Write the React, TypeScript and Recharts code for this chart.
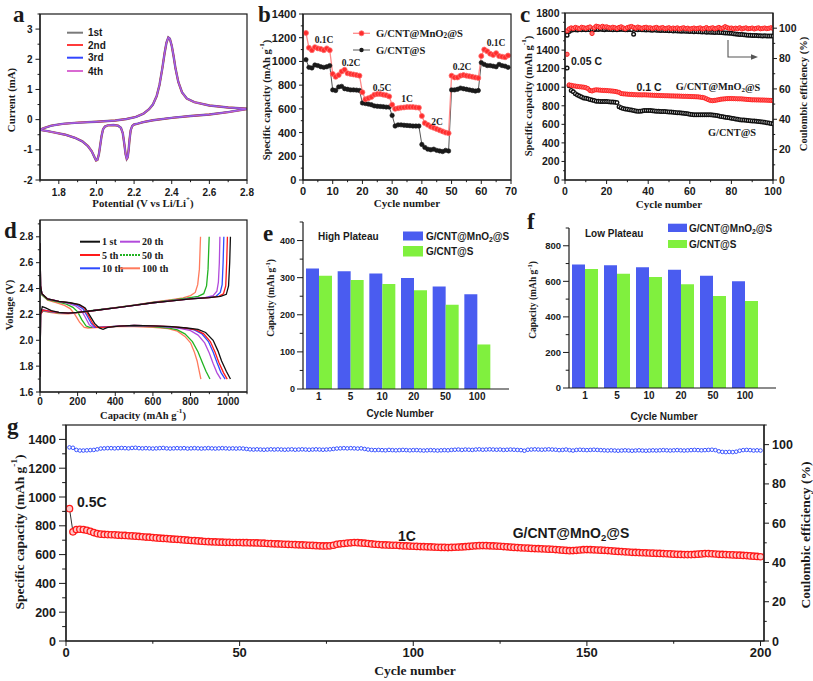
import React from "react";
import { Bar, BarChart, Line, LineChart, XAxis, YAxis } from "recharts";

const SANS = "'Liberation Sans', Arial, sans-serif";
const SERIF = "'Liberation Serif', 'Times New Roman', serif";
const INK = "#1a1a1a";

// ---------- a: cyclic voltammetry (potential V, current mA), cathodic then anodic ----------
const cvCycle: [number, number][] = [
  [2.8, 0.35], [2.7, 0.25], [2.6, 0.17], [2.5, 0.12], [2.4, 0.06], [2.3, -0.02], [2.25, -0.08], [2.22, -0.13],
  [2.2, -0.16], [2.19, -0.21], [2.182, -0.35], [2.176, -0.65], [2.171, -1.0], [2.166, -1.25], [2.161, -1.3],
  [2.155, -1.15], [2.148, -0.8], [2.14, -0.45], [2.13, -0.27], [2.115, -0.2], [2.09, -0.18], [2.06, -0.19],
  [2.045, -0.23], [2.035, -0.32], [2.027, -0.55], [2.02, -0.85], [2.013, -1.15], [2.005, -1.33], [1.998, -1.35],
  [1.99, -1.25], [1.975, -1.05], [1.955, -0.88], [1.925, -0.72], [1.885, -0.6], [1.835, -0.5], [1.78, -0.43],
  [1.74, -0.38], [1.7, -0.34],
  [1.72, -0.28], [1.76, -0.2], [1.82, -0.14], [1.9, -0.1], [2.0, -0.07], [2.1, -0.03], [2.16, 0.02], [2.21, 0.09],
  [2.25, 0.2], [2.28, 0.35], [2.3, 0.5], [2.32, 0.78], [2.335, 1.15], [2.35, 1.7], [2.362, 2.2], [2.372, 2.55],
  [2.382, 2.72], [2.39, 2.68], [2.4, 2.45], [2.41, 2.1], [2.42, 1.7], [2.435, 1.25], [2.455, 0.9], [2.48, 0.7],
  [2.52, 0.58], [2.6, 0.47], [2.7, 0.4], [2.8, 0.36],
];
const cvNames = ["1st", "2nd", "3rd", "4th"];
const cvColors = ["#7a7a7a", "#ff3b3b", "#3346ff", "#d96ad2"];
const aTicksX = [1.7, 1.8, 1.9, 2.0, 2.1, 2.2, 2.3, 2.4, 2.5, 2.6, 2.7, 2.8];
const aTicksY = [-2, -1.5, -1, -0.5, 0, 0.5, 1, 1.5, 2, 2.5, 3, 3.5];

// ---------- b: rate capability (cycles 1..69) ----------
const rateMn = [
  1240, 1115, 1095, 1120, 1110, 1105, 1095, 1110, 1095, 895,
  870, 885, 915, 930, 900, 895, 890, 885, 880, 740,
  680, 690, 700, 720, 725, 725, 720, 715, 705, 635,
  600, 605, 610, 612, 615, 615, 615, 612, 610, 540,
  480, 465, 450, 440, 430, 420, 410, 400, 395, 880,
  865, 865, 880, 885, 880, 875, 870, 865, 860, 1045,
  1100, 1085, 1065, 1055, 1070, 1045, 1040, 1035, 1050,
];
const rateBare = [
  1015, 950, 945, 970, 965, 955, 950, 955, 965, 760,
  755, 785, 790, 770, 765, 760, 760, 758, 755, 650,
  645, 640, 635, 625, 622, 620, 618, 615, 615, 545,
  455, 465, 465, 462, 460, 458, 455, 455, 455, 300,
  275, 260, 255, 260, 250, 245, 240, 250, 245, 760,
  760, 765, 775, 770, 765, 760, 755, 750, 755, 990,
  975, 965, 965, 960, 955, 975, 965, 960, 950,
];
const bTicksX = [0, 5, 10, 15, 20, 25, 30, 35, 40, 45, 50, 55, 60, 65, 70];
const bTicksY = [0, 100, 200, 300, 400, 500, 600, 700, 800, 900, 1000, 1100, 1200, 1300, 1400];

// ---------- c: cycling at 0.1 C (cycles 1..100) ----------
const capMn = [
  1355, 1025, 1020, 1015, 1012, 1008, 1005, 1003, 1000, 995,
  985, 965, 960, 968, 972, 970, 968, 966, 965, 964,
  962, 960, 958, 955, 950, 945, 932, 929, 927, 925,
  923, 922, 920, 919, 918, 918, 917, 918, 917, 916,
  915, 914, 913, 912, 911, 910, 909, 908, 908, 907,
  906, 906, 905, 905, 904, 903, 902, 902, 901, 900,
  899, 898, 897, 896, 893, 890, 885, 875, 865, 857,
  855, 858, 862, 866, 871, 873, 875, 877, 878, 878,
  877, 876, 875, 875, 874, 872, 870, 868, 866, 864,
  864, 863, 863, 862, 862, 861, 860, 859, 858, 857,
];
const capBare = [
  1206, 1015, 965, 950, 930, 915, 905, 895, 885, 880,
  875, 868, 862, 856, 850, 848, 847, 846, 845, 845,
  844, 842, 840, 838, 835, 790, 780, 770, 765, 763,
  758, 754, 750, 745, 740, 742, 745, 748, 749, 749,
  748, 746, 744, 742, 740, 739, 738, 737, 735, 734,
  732, 730, 728, 726, 724, 722, 720, 717, 713, 709,
  705, 702, 702, 702, 702, 702, 702, 702, 702, 702,
  700, 698, 695, 690, 684, 681, 677, 673, 670, 666,
  662, 658, 654, 650, 648, 646, 644, 641, 639, 637,
  635, 633, 630, 628, 626, 622, 618, 614, 610, 605,
];
const ceMn = [
  98.2, 99.5, 100.2, 99.8, 100.5, 100.1, 99.7, 100.6, 100.3, 99.9,
  100.4, 100.8, 96.5, 100.2, 101.3, 101.0, 100.5, 101.2, 100.7, 100.9,
  100.4, 100.1, 100.6, 100.3, 99.8, 100.5, 100.9, 100.2, 99.6, 100.4,
  100.8, 101.1, 100.5, 100.0, 100.7, 100.3, 99.9, 100.4, 100.6, 100.1,
  100.3, 99.8, 100.2, 100.5, 99.9, 100.1, 100.4, 99.7, 100.0, 100.3,
  99.6, 100.1, 99.8, 100.2, 99.5, 99.9, 100.3, 99.7, 100.0, 99.4,
  99.8, 100.1, 99.6, 99.9, 100.2, 99.5, 99.8, 100.4, 99.7, 99.9,
  100.3, 99.6, 100.0, 100.5, 99.8, 100.2, 101.0, 100.4, 99.9, 100.1,
  99.6, 100.0, 99.7, 100.3, 99.5, 99.9, 100.2, 99.6, 99.8, 100.1,
  99.5, 99.9, 100.2, 99.6, 99.8, 100.1, 99.7, 99.9, 100.3, 99.8,
];
const ceBare = [
  95.4, 97.8, 98.6, 98.9, 99.0, 98.8, 99.1, 98.9, 99.2, 99.0,
  99.1, 98.9, 99.2, 99.0, 99.3, 99.1, 99.4, 99.2, 99.0, 99.3,
  99.1, 99.2, 98.9, 99.1, 99.0, 99.2, 99.3, 99.1, 98.9, 99.0,
  99.1, 99.0, 96.0, 99.2, 99.0, 99.1, 98.9, 99.0, 98.8, 98.9,
  98.8, 98.7, 98.9, 98.6, 98.7, 98.5, 98.6, 98.4, 98.5, 98.3,
  98.4, 98.2, 98.3, 98.1, 98.2, 98.0, 98.1, 97.9, 98.0, 97.8,
  97.9, 97.7, 97.8, 97.6, 97.7, 97.5, 97.6, 97.4, 97.5, 97.3,
  97.4, 97.2, 97.3, 97.1, 97.2, 97.0, 96.9, 96.8, 96.7, 96.6,
  96.4, 96.2, 96.0, 95.9, 95.8, 95.6, 95.5, 95.4, 95.3, 95.2,
  95.2, 95.1, 95.0, 95.0, 94.9, 95.0, 94.9, 94.8, 94.9, 94.8,
];
const cTicksX = [0, 10, 20, 30, 40, 50, 60, 70, 80, 90, 100];
const cTicksY = [0, 100, 200, 300, 400, 500, 600, 700, 800, 900, 1000, 1100, 1200, 1300, 1400, 1500, 1600, 1700, 1800];
const cTicksR = [0, 10, 20, 30, 40, 50, 60, 70, 80, 90, 100];

// ---------- d: charge / discharge profiles (capacity, voltage) ----------
const dCycles = ["1 st", "5 th", "10 th", "20 th", "50 th", "100 th"];
const dColors = ["#111111", "#ff1a1a", "#2e4bff", "#b24bdb", "#22b322", "#ff7a5c"];
const disch: [number, number][][] = [
  [[0, 2.75], [3, 2.42], [10, 2.36], [40, 2.32], [100, 2.3], [160, 2.29], [210, 2.275], [240, 2.25], [265, 2.19], [290, 2.13], [315, 2.095], [335, 2.085], [360, 2.1], [420, 2.11], [500, 2.115], [600, 2.112], [700, 2.105], [780, 2.095], [840, 2.085], [880, 2.06], [920, 2.0], [945, 1.92], [965, 1.84], [990, 1.76], [1012, 1.7]],
  [[0, 2.75], [3, 2.42], [10, 2.36], [40, 2.32], [100, 2.3], [160, 2.29], [205, 2.275], [235, 2.25], [258, 2.19], [280, 2.13], [300, 2.1], [330, 2.1], [420, 2.11], [500, 2.115], [600, 2.112], [700, 2.105], [770, 2.095], [830, 2.08], [870, 2.05], [905, 1.99], [930, 1.91], [950, 1.83], [975, 1.75], [995, 1.7]],
  [[0, 2.75], [3, 2.42], [10, 2.36], [40, 2.32], [100, 2.3], [160, 2.29], [200, 2.27], [228, 2.245], [250, 2.19], [272, 2.13], [292, 2.1], [320, 2.1], [420, 2.11], [500, 2.115], [600, 2.112], [700, 2.104], [765, 2.095], [820, 2.08], [860, 2.05], [895, 1.99], [920, 1.91], [940, 1.83], [962, 1.75], [984, 1.7]],
  [[0, 2.75], [3, 2.42], [10, 2.36], [40, 2.32], [100, 2.3], [150, 2.285], [190, 2.265], [218, 2.235], [240, 2.18], [262, 2.12], [282, 2.1], [310, 2.1], [420, 2.11], [500, 2.113], [600, 2.11], [700, 2.1], [750, 2.09], [800, 2.075], [840, 2.04], [875, 1.98], [900, 1.9], [920, 1.82], [940, 1.75], [961, 1.7]],
  [[0, 2.75], [3, 2.42], [10, 2.35], [40, 2.315], [100, 2.295], [140, 2.28], [175, 2.255], [200, 2.22], [222, 2.16], [245, 2.11], [265, 2.1], [300, 2.1], [400, 2.108], [500, 2.11], [600, 2.105], [680, 2.095], [730, 2.08], [770, 2.05], [810, 1.99], [840, 1.91], [862, 1.83], [882, 1.76], [903, 1.7]],
  [[0, 2.75], [3, 2.42], [10, 2.35], [40, 2.31], [90, 2.29], [130, 2.27], [160, 2.245], [185, 2.2], [210, 2.14], [235, 2.1], [255, 2.095], [300, 2.098], [400, 2.105], [500, 2.105], [600, 2.1], [680, 2.09], [730, 2.07], [770, 2.03], [800, 1.98], [820, 1.91], [835, 1.84], [845, 1.77], [855, 1.7]],
];
const charge: [number, number][][] = [
  [[0, 1.72], [3, 2.2], [12, 2.26], [30, 2.25], [60, 2.23], [100, 2.215], [150, 2.21], [200, 2.215], [300, 2.232], [400, 2.25], [500, 2.27], [600, 2.29], [700, 2.305], [800, 2.32], [900, 2.33], [960, 2.34], [990, 2.355], [1002, 2.42], [1008, 2.6], [1012, 2.8]],
  [[0, 1.72], [3, 2.2], [15, 2.235], [50, 2.225], [100, 2.215], [150, 2.21], [200, 2.215], [300, 2.232], [400, 2.25], [500, 2.27], [600, 2.29], [700, 2.305], [800, 2.32], [900, 2.33], [950, 2.34], [975, 2.36], [987, 2.42], [992, 2.6], [996, 2.8]],
  [[0, 1.72], [3, 2.2], [15, 2.235], [50, 2.225], [100, 2.215], [150, 2.21], [200, 2.215], [300, 2.232], [400, 2.25], [500, 2.27], [600, 2.29], [700, 2.305], [800, 2.32], [890, 2.33], [935, 2.34], [958, 2.37], [968, 2.43], [973, 2.6], [977, 2.8]],
  [[0, 1.72], [3, 2.2], [15, 2.232], [50, 2.222], [100, 2.213], [150, 2.21], [200, 2.215], [300, 2.233], [400, 2.25], [500, 2.27], [600, 2.29], [700, 2.306], [800, 2.322], [880, 2.332], [920, 2.345], [940, 2.38], [948, 2.45], [953, 2.6], [956, 2.8]],
  [[0, 1.72], [3, 2.2], [15, 2.23], [50, 2.22], [100, 2.212], [150, 2.21], [200, 2.216], [300, 2.234], [400, 2.252], [500, 2.272], [600, 2.292], [700, 2.31], [780, 2.325], [840, 2.34], [870, 2.36], [885, 2.42], [893, 2.55], [899, 2.8]],
  [[0, 1.72], [3, 2.2], [15, 2.225], [50, 2.215], [100, 2.207], [150, 2.205], [200, 2.212], [300, 2.232], [400, 2.252], [500, 2.272], [600, 2.294], [700, 2.314], [760, 2.328], [800, 2.345], [825, 2.37], [838, 2.43], [847, 2.55], [853, 2.8]],
];
const dTicksX = [0, 100, 200, 300, 400, 500, 600, 700, 800, 900, 1000, 1100];
const dTicksY = [1.6, 1.7, 1.8, 1.9, 2.0, 2.1, 2.2, 2.3, 2.4, 2.5, 2.6, 2.7, 2.8, 2.9];

// ---------- e / f: plateau capacities ----------
const plateauCycles = ["1", "5", "10", "20", "50", "100"];
const highMn = [325, 317, 311, 299, 276, 255];
const highBare = [305, 294, 283, 266, 227, 120];
const lowMn = [694, 690, 679, 665, 631, 601];
const lowBare = [669, 643, 624, 584, 518, 489];
const eTicksY = [0, 50, 100, 150, 200, 250, 300, 350, 400, 450];
const fTicksY = [0, 100, 200, 300, 400, 500, 600, 700, 800, 900];

// ---------- g: long cycling at 1C (cycles 1..200) ----------
const longCap = [
  919, 758, 774, 776, 774, 769, 762, 753, 746, 742,
  740, 739, 738, 737, 735, 734, 733, 731, 730, 728,
  726, 724, 722, 721, 718, 716, 714, 712, 711, 709,
  707, 706, 704, 702, 700, 698, 697, 695, 693, 691,
  690, 689, 688, 687, 686, 685, 685, 684, 684, 684,
  683, 683, 682, 682, 681, 680, 679, 677, 676, 675,
  674, 673, 672, 671, 670, 669, 668, 667, 666, 665,
  664, 662, 661, 660, 660, 661, 665, 672, 675, 677,
  680, 682, 684, 683, 681, 679, 677, 674, 672, 670,
  668, 667, 666, 665, 665, 663, 661, 660, 659, 658,
  657, 656, 655, 654, 653, 652, 651, 650, 650, 649,
  650, 651, 652, 653, 655, 657, 659, 661, 662, 663,
  662, 661, 660, 659, 658, 656, 654, 652, 650, 649,
  647, 646, 645, 643, 642, 641, 640, 639, 638, 637,
  635, 633, 631, 629, 627, 628, 630, 632, 634, 635,
  634, 633, 632, 631, 630, 628, 626, 624, 622, 621,
  619, 618, 616, 615, 614, 613, 612, 611, 610, 609,
  608, 607, 606, 605, 603, 602, 601, 600, 600, 600,
  601, 603, 605, 607, 607, 606, 604, 602, 601, 600,
  599, 598, 597, 596, 594, 593, 591, 589, 587, 585,
];
const longCe = [
  98.6, 98.4, 97.3, 97.0, 97.0, 97.1, 97.2, 97.3, 97.6, 98.0,
  98.1, 98.2, 98.2, 98.1, 98.2, 98.3, 98.2, 98.1, 98.3, 98.4,
  98.2, 98.1, 98.2, 98.1, 98.0, 98.1, 98.2, 98.3, 98.1, 98.0,
  98.1, 98.2, 98.1, 98.2, 98.0, 98.1, 98.2, 98.1, 98.0, 98.1,
  98.2, 98.1, 98.0, 98.1, 98.2, 98.1, 98.0, 98.1, 98.0, 98.1,
  98.0, 97.8, 97.6, 97.5, 97.6, 97.5, 97.4, 97.5, 97.6, 97.5,
  97.6, 97.5, 97.4, 97.5, 97.6, 97.4, 97.5, 97.6, 97.5, 97.4,
  97.5, 97.6, 97.5, 97.4, 97.5, 97.6, 97.8, 98.0, 98.1, 98.2,
  98.1, 98.2, 98.1, 98.0, 98.1, 97.8, 97.5, 97.3, 97.2, 97.3,
  97.2, 97.1, 97.3, 97.2, 97.1, 97.2, 97.3, 97.2, 97.1, 97.2,
  97.2, 97.1, 97.0, 97.1, 97.2, 97.1, 97.0, 97.1, 97.2, 97.1,
  97.3, 97.4, 97.5, 97.3, 97.5, 97.4, 97.3, 97.5, 97.6, 97.4,
  97.5, 97.6, 97.5, 97.4, 97.5, 97.3, 97.4, 97.5, 97.4, 97.3,
  97.2, 96.9, 97.4, 97.5, 97.6, 97.5, 97.4, 97.5, 97.6, 97.5,
  97.4, 97.2, 97.3, 97.5, 97.2, 97.0, 97.3, 97.4, 97.3, 97.2,
  97.3, 97.4, 97.3, 97.2, 97.1, 97.0, 97.1, 97.0, 96.9, 97.0,
  97.1, 97.0, 96.9, 97.0, 97.1, 97.0, 96.9, 97.0, 97.1, 97.0,
  97.1, 97.2, 97.1, 97.0, 97.1, 97.2, 97.1, 97.0, 97.1, 97.2,
  97.3, 97.2, 97.1, 97.2, 97.3, 97.4, 97.2, 96.6, 96.3, 96.2,
  96.3, 96.2, 96.4, 96.9, 97.2, 97.3, 97.2, 97.0, 97.1, 97.0,
];
const gTicksX = [0, 25, 50, 75, 100, 125, 150, 175, 200];
const gTicksY = [0, 100, 200, 300, 400, 500, 600, 700, 800, 900, 1000, 1100, 1200, 1300, 1400, 1500];
const gTicksR = [0, 10, 20, 30, 40, 50, 60, 70, 80, 90, 100, 110];

// ---------- layout ----------
type Box = { l: number; t: number; w: number; h: number };
const PA: Box = { l: 40, t: 14, w: 207, h: 166 };
const PB_: Box = { l: 303, t: 14, w: 208, h: 166 };
const PC: Box = { l: 565, t: 13, w: 208, h: 167 };
const PD: Box = { l: 40, t: 220, w: 207, h: 172 };
const PE: Box = { l: 303, t: 222, w: 206, h: 167 };
const PF: Box = { l: 569, t: 228, w: 207, h: 160 };
const PG: Box = { l: 66, t: 425, w: 698, h: 216 };

const PAD_L = 50, PAD_T = 12, PAD_R = 50, PAD_B = 34;
const dims = (p: Box) => ({ width: p.w + PAD_L + PAD_R, height: p.h + PAD_T + PAD_B });
const M1 = { top: PAD_T, right: PAD_R, bottom: 0, left: 0 };
const M2 = { top: PAD_T, right: 0, bottom: 0, left: 0 };
const AXL = { stroke: INK, strokeWidth: 1.2 };

function Slot({ p, children }: { p: Box; children: React.ReactNode }) {
  return <div style={{ position: "absolute", left: p.l - PAD_L, top: p.t - PAD_T }}>{children}</div>;
}

type TickCfg = {
  side: "left" | "right" | "bottom";
  size: number;
  len: number;
  gap: number;
  major?: (v: number) => boolean;
  fmt?: (v: any) => string;
};

function makeTick(o: TickCfg) {
  const major = o.major ?? (() => true);
  const fmt = o.fmt ?? ((v: any) => String(v));
  return (p: any) => {
    const v = p.payload.value;
    const m = major(v);
    const L = m ? o.len : o.len * 0.55;
    const txt = { fontFamily: SANS, fontSize: o.size, fontWeight: 700, fill: INK };
    if (o.side === "bottom") {
      return (
        <g>
          <line x1={p.x} x2={p.x} y1={p.y} y2={p.y + L} stroke={INK} strokeWidth={1} />
          {m && (
            <text x={p.x} y={p.y + o.len + o.gap + o.size * 0.72} textAnchor="middle" {...txt}>
              {fmt(v)}
            </text>
          )}
        </g>
      );
    }
    const s = o.side === "left" ? -1 : 1;
    return (
      <g>
        <line x1={p.x} x2={p.x + s * L} y1={p.y} y2={p.y} stroke={INK} strokeWidth={1} />
        {m && (
          <text x={p.x + s * (o.len + o.gap)} y={p.y + o.size * 0.36} textAnchor={s < 0 ? "end" : "start"} {...txt}>
            {fmt(v)}
          </text>
        )}
      </g>
    );
  };
}

const every = (n: number) => (v: number) => Math.abs(v / n - Math.round(v / n)) < 1e-6;
const fix1 = (v: number) => v.toFixed(1);
const axisBase = { tickSize: 0, tickMargin: 0, tickLine: false, axisLine: AXL, interval: 0 as const, allowDataOverflow: true };

const pts = (arr: [number, number][]) => arr.map(([x, y]) => ({ x, y }));
const byCycle = (vals: number[]) => vals.map((y, i) => ({ x: i + 1, y }));

function PanelA() {
  const data = pts(cvCycle);
  const widths = [2.4, 1.9, 1.5, 1.1];
  return (
    <Slot p={PA}>
      <LineChart {...dims(PA)} margin={M1}>
        <XAxis {...axisBase} type="number" dataKey="x" domain={[1.7, 2.8]} ticks={aTicksX} height={PAD_B}
          tick={makeTick({ side: "bottom", size: 10, len: 4, gap: 4.5, major: every(0.2), fmt: fix1 })} />
        <YAxis {...axisBase} type="number" domain={[-2, 3.5]} ticks={aTicksY} width={PAD_L}
          tick={makeTick({ side: "left", size: 10, len: 4.5, gap: 3, major: every(1) })} />
        {cvColors.map((c, i) => (
          <Line key={cvNames[i]} data={data} dataKey="y" type="linear" stroke={c} strokeWidth={widths[i]} strokeOpacity={i === 3 ? 0.8 : 1}
            dot={false} activeDot={false} isAnimationActive={false} />
        ))}
      </LineChart>
    </Slot>
  );
}

function PanelB() {
  return (
    <Slot p={PB_}>
      <LineChart {...dims(PB_)} margin={M1}>
        <XAxis {...axisBase} type="number" dataKey="x" domain={[0, 70]} ticks={bTicksX} height={PAD_B}
          tick={makeTick({ side: "bottom", size: 11, len: 4, gap: 3.5, major: every(10) })} />
        <YAxis {...axisBase} type="number" domain={[0, 1400]} ticks={bTicksY} width={PAD_L}
          tick={makeTick({ side: "left", size: 11, len: 4, gap: 2.7, major: every(200) })} />
        <Line data={byCycle(rateBare)} dataKey="y" type="linear" stroke="#555" strokeWidth={1}
          dot={{ r: 2.2, fill: "#1a1a1a", stroke: "#1a1a1a", strokeWidth: 0.6 }} activeDot={false} isAnimationActive={false} />
        <Line data={byCycle(rateMn)} dataKey="y" type="linear" stroke="#ff8a8a" strokeWidth={1.3}
          dot={{ r: 2.5, fill: "#ff2d2d", stroke: "#ff6b6b", strokeWidth: 0.8 }} activeDot={false} isAnimationActive={false} />
      </LineChart>
    </Slot>
  );
}

function PanelC() {
  return (
    <Slot p={PC}>
      <LineChart {...dims(PC)} margin={M2}>
        <XAxis {...axisBase} type="number" dataKey="x" domain={[0, 100]} ticks={cTicksX} height={PAD_B}
          tick={makeTick({ side: "bottom", size: 10.5, len: 4, gap: 3.5, major: every(20) })} />
        <YAxis {...axisBase} yAxisId="l" type="number" domain={[0, 1800]} ticks={cTicksY} width={PAD_L}
          tick={makeTick({ side: "left", size: 10.5, len: 3.5, gap: 2, major: every(200) })} />
        <YAxis {...axisBase} yAxisId="r" orientation="right" type="number" domain={[0, 110]} ticks={cTicksR} width={PAD_R}
          tick={makeTick({ side: "right", size: 10.5, len: 4, gap: 2, major: every(20) })} />
        <Line yAxisId="r" data={byCycle(ceBare)} dataKey="y" stroke="none"
          dot={{ r: 1.8, fill: "#fff", stroke: "#111", strokeWidth: 1.4 }} activeDot={false} isAnimationActive={false} />
        <Line yAxisId="r" data={byCycle(ceMn)} dataKey="y" stroke="none"
          dot={{ r: 2.1, fill: "#ff7070", stroke: "#ff2020", strokeWidth: 1 }} activeDot={false} isAnimationActive={false} />
        <Line yAxisId="l" data={byCycle(capBare)} dataKey="y" stroke="none"
          dot={{ r: 1.8, fill: "#fff", stroke: "#111", strokeWidth: 1.4 }} activeDot={false} isAnimationActive={false} />
        <Line yAxisId="l" data={byCycle(capMn)} dataKey="y" stroke="none"
          dot={{ r: 2.1, fill: "#ff7070", stroke: "#ff2020", strokeWidth: 1 }} activeDot={false} isAnimationActive={false} />
      </LineChart>
    </Slot>
  );
}

function PanelD() {
  const order = [5, 4, 3, 2, 1, 0];
  return (
    <Slot p={PD}>
      <LineChart {...dims(PD)} margin={M1}>
        <XAxis {...axisBase} type="number" dataKey="x" domain={[0, 1100]} ticks={dTicksX} height={PAD_B}
          tick={makeTick({ side: "bottom", size: 10, len: 4, gap: 2, major: every(200) })} />
        <YAxis {...axisBase} type="number" domain={[1.6, 2.93]} ticks={dTicksY} width={PAD_L}
          tick={makeTick({ side: "left", size: 10, len: 4, gap: 2.7, major: (v) => Math.round(v * 10) % 2 === 0, fmt: fix1 })} />
        {order.map((i) => (
          <Line key={"d" + i} data={pts(disch[i])} dataKey="y" type="linear" stroke={dColors[i]} strokeWidth={1.3}
            dot={false} activeDot={false} isAnimationActive={false} />
        ))}
        {order.map((i) => (
          <Line key={"c" + i} data={pts(charge[i])} dataKey="y" type="linear" stroke={dColors[i]} strokeWidth={1.3}
            dot={false} activeDot={false} isAnimationActive={false} />
        ))}
      </LineChart>
    </Slot>
  );
}

function PlateauPanel({ p, mn, bare, domain, ticks, major, padR, ySize }: {
  p: Box; mn: number[]; bare: number[]; domain: [number, number]; ticks: number[]; major: number; padR: number; ySize: number;
}) {
  const rows = plateauCycles.map((c, i) => ({ cyc: c, mn: mn[i], bare: bare[i] }));
  return (
    <Slot p={p}>
      <BarChart {...dims(p)} data={rows} margin={M1} barGap={0} barCategoryGap={0}>
        <XAxis {...axisBase} dataKey="cyc" padding={{ left: 0, right: padR }} height={PAD_B}
          tick={makeTick({ side: "bottom", size: 10, len: 0, gap: 4 })} />
        <YAxis {...axisBase} type="number" domain={domain} ticks={ticks} width={PAD_L}
          tick={makeTick({ side: "left", size: ySize, len: 6, gap: 2, major: every(major) })} />
        <Bar dataKey="mn" fill="#4a5cf0" barSize={13} isAnimationActive={false} />
        <Bar dataKey="bare" fill="#80f03e" barSize={13} isAnimationActive={false} />
      </BarChart>
    </Slot>
  );
}

function PanelG() {
  return (
    <Slot p={PG}>
      <LineChart {...dims(PG)} margin={M2}>
        <XAxis {...axisBase} type="number" dataKey="x" domain={[0, 201]} ticks={gTicksX} height={PAD_B}
          tick={makeTick({ side: "bottom", size: 13, len: 5, gap: 2, major: every(50) })} />
        <YAxis {...axisBase} yAxisId="l" type="number" domain={[0, 1500]} ticks={gTicksY} width={PAD_L}
          tick={makeTick({ side: "left", size: 12.5, len: 7, gap: 3, major: every(200) })} />
        <YAxis {...axisBase} yAxisId="r" orientation="right" type="number" domain={[0, 110]} ticks={gTicksR} width={PAD_R}
          tick={makeTick({ side: "right", size: 12.5, len: 5, gap: 3, major: every(20) })} />
        <Line yAxisId="r" data={byCycle(longCe)} dataKey="y" type="linear" stroke="#3a55ff" strokeWidth={0.8}
          dot={{ r: 1.8, fill: "#fff", stroke: "#2743ff", strokeWidth: 0.9 }} activeDot={false} isAnimationActive={false} />
        <Line yAxisId="l" data={byCycle(longCap)} dataKey="y" type="linear" stroke="#333" strokeWidth={1}
          dot={{ r: 3.2, fill: "#ffc8c8", stroke: "#ff1a1a", strokeWidth: 1.3 }} activeDot={false} isAnimationActive={false} />
      </LineChart>
    </Slot>
  );
}

function T({ x, y, s, serif = false, anchor = "middle", rot = false, base = "central", children }: {
  x: number; y: number; s: number; serif?: boolean; anchor?: "start" | "middle" | "end"; rot?: boolean; base?: string; children: React.ReactNode;
}) {
  return (
    <text x={x} y={y} fontSize={s} fontFamily={serif ? SERIF : SANS} fontWeight={700} fill={INK}
      textAnchor={anchor} dominantBaseline={base as any} transform={rot ? `rotate(-90 ${x} ${y})` : undefined}>
      {children}
    </text>
  );
}

const mnName = (s: number) => (
  <>
    G/CNT@MnO<tspan dy={s * 0.3} fontSize={s * 0.68}>2</tspan>
    <tspan dy={-s * 0.3}>@S</tspan>
  </>
);
const unit = (s: number) => (
  <>
    (mAh g<tspan dy={-s * 0.38} fontSize={s * 0.68}>-1</tspan>
    <tspan dy={s * 0.38}>)</tspan>
  </>
);

function Overlay() {
  const frame = (p: Box) => <rect x={p.l} y={p.t} width={p.w} height={p.h} fill="none" stroke={INK} strokeWidth={1.2} />;
  const letters: [string, number, number][] = [["a", 13, 21.5], ["b", 258, 22], ["c", 520, 21.5], ["d", 4, 238], ["e", 263, 241], ["f", 527, 229], ["g", 7, 434]];
  const aLegendY = [32.7, 45, 57.7, 71];
  const dLegendY = [241.7, 255, 268.3];
  const rateLabels: [string, number, number][] = [["0.1C", 324, 40], ["0.2C", 351, 63.3], ["0.5C", 382, 88.3], ["1C", 407, 99.3], ["2C", 437, 121.7], ["0.2C", 462, 66.7], ["0.1C", 496, 43.3]];
  return (
    <svg width={813} height={681} style={{ position: "absolute", left: 0, top: 0, pointerEvents: "none" }}>
      {frame(PA)}
      {frame(PB_)}
      {frame(PC)}
      {frame(PD)}
      {frame(PG)}
      {letters.map(([t, x, y]) => (
        <T key={t} x={x} y={y} s={23} serif anchor="start" base="alphabetic">{t}</T>
      ))}

      {/* a */}
      {cvNames.map((n, i) => (
        <g key={n}>
          <line x1={67} x2={83} y1={aLegendY[i]} y2={aLegendY[i]} stroke={cvColors[i]} strokeWidth={2} />
          <T x={88} y={aLegendY[i]} s={10} anchor="start">{n}</T>
        </g>
      ))}
      <T x={11} y={100} s={10.8} serif rot>Current (mA)</T>
      <T x={143} y={203} s={10.8} serif>
        Potential (V vs Li/Li<tspan dy={-4} fontSize={7}>+</tspan><tspan dy={4}>)</tspan>
      </T>

      {/* b */}
      <line x1={353} x2={370} y1={33.3} y2={33.3} stroke="#ff8a8a" strokeWidth={1.3} />
      <circle cx={361.5} cy={33.3} r={2.5} fill="#ff2d2d" stroke="#ff6b6b" strokeWidth={0.8} />
      <T x={376} y={33.3} s={10.6} serif anchor="start">{mnName(10.6)}</T>
      <line x1={353} x2={370} y1={50} y2={50} stroke="#555" strokeWidth={1} />
      <circle cx={361.5} cy={50} r={2.2} fill="#1a1a1a" />
      <T x={376} y={50} s={10.6} serif anchor="start">G/CNT@S</T>
      {rateLabels.map(([t, x, y], i) => (
        <T key={i} x={x} y={y} s={9.5} serif>{t}</T>
      ))}
      <T x={266} y={100} s={10.5} serif rot>Specific capacity {unit(10.5)}</T>
      <T x={407} y={203} s={11} serif>Cycle number</T>

      {/* c */}
      <T x={586.5} y={60.7} s={10.5}>0.05 C</T>
      <T x={649} y={86.7} s={10.5}>0.1 C</T>
      <T x={718} y={86.7} s={10.3} serif>{mnName(10.3)}</T>
      <T x={732} y={132.7} s={10.3} serif>G/CNT@S</T>
      <path d="M728 40 V57 H752" fill="none" stroke="#555" strokeWidth={1.1} />
      <polygon points="758,57 751,54.3 751,59.7" fill="#555" />
      <T x={528} y={96} s={10.5} serif rot>Specific capacity {unit(10.5)}</T>
      <T x={803} y={94} s={10.5} serif rot>Coulombic efficiency (%)</T>
      <T x={669} y={204} s={11} serif>Cycle number</T>

      {/* d */}
      {dCycles.map((n, i) => {
        const col = i < 3 ? 0 : 1;
        const y = dLegendY[i % 3];
        const x0 = col === 0 ? 80 : 120;
        return (
          <g key={n}>
            <line x1={x0} x2={x0 + 20} y1={y} y2={y} stroke={dColors[i]} strokeWidth={2} strokeDasharray={i === 4 ? "2 1" : undefined} />
            <T x={x0 + 22} y={y} s={10} serif anchor="start">{n}</T>
          </g>
        );
      })}
      <T x={9} y={305} s={10.5} serif rot>Voltage (V)</T>
      <T x={143} y={415} s={10.5} serif>Capacity {unit(10.5)}</T>

      {/* e */}
      <T x={318} y={236} s={10} anchor="start">High Plateau</T>
      <rect x={403} y={231.5} width={20} height={9} fill="#4a5cf0" />
      <rect x={403} y={246} width={20} height={10.5} fill="#80f03e" />
      <T x={426} y={236} s={10} anchor="start">{mnName(10)}</T>
      <T x={426} y={251} s={10} anchor="start">G/CNT@S</T>
      <T x={271} y={298} s={9.5} serif rot>Capacity {unit(9.5)}</T>
      <T x={400} y={413} s={10}>Cycle Number</T>

      {/* f */}
      <T x={585} y={233} s={10} anchor="start">Low Plateau</T>
      <rect x={668} y={223.7} width={19} height={8.3} fill="#4a5cf0" />
      <rect x={668} y={240} width={19} height={8} fill="#80f03e" />
      <T x={689} y={228} s={10} anchor="start">{mnName(10)}</T>
      <T x={689} y={244} s={10} anchor="start">G/CNT@S</T>
      <T x={533} y={300} s={9.5} serif rot>Capacity {unit(9.5)}</T>
      <T x={664} y={416} s={10}>Cycle Number</T>

      {/* g */}
      <T x={77} y={502} s={14} anchor="start">0.5C</T>
      <T x={398} y={536} s={14} anchor="start">1C</T>
      <T x={571} y={532.5} s={14}>{mnName(14)}</T>
      <T x={19} y={532} s={13.5} serif rot>Specific capacity {unit(13.5)}</T>
      <T x={805} y={535} s={13.5} serif rot>Coulombic efficiency (%)</T>
      <T x={415} y={670} s={13.5} serif>Cycle number</T>
    </svg>
  );
}

export default function App() {
  return (
    <div style={{ position: "absolute", left: 0, top: 0, width: 813, height: 681, background: "#fff", overflow: "hidden" }}>
      <PanelA />
      <PanelB />
      <PanelC />
      <PanelD />
      <PlateauPanel p={PE} mn={highMn} bare={highBare} domain={[0, 450]} ticks={eTicksY} major={100} padR={16} ySize={9} />
      <PlateauPanel p={PF} mn={lowMn} bare={lowBare} domain={[0, 900]} ticks={fTicksY} major={200} padR={15} ySize={9.5} />
      <PanelG />
      <Overlay />
    </div>
  );
}
